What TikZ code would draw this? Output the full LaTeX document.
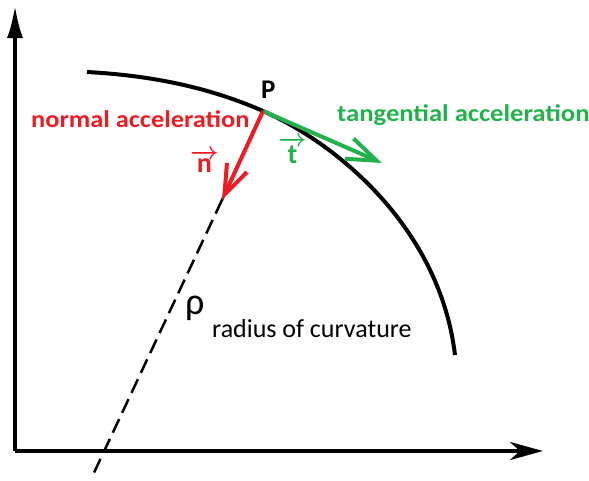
\documentclass[tikz,border=0pt]{standalone}
\usepackage{fontspec}
\setmainfont{Carlito}
\usetikzlibrary{arrows.meta}
\definecolor{pred}{RGB}{237,28,36}
\definecolor{pgreen}{RGB}{34,177,76}
\begin{document}
\begin{tikzpicture}[x=1pt,y=-1pt,
  axis/.style={line width=4pt,black},
  curv/.style={line width=4pt,black},
  vecarrow/.style={line width=4pt,-{Straight Barb[length=30pt,width=22pt,line width=4pt]}},
  lbl/.style={inner sep=0pt,anchor=base west}]
\useasboundingbox (0,0) rectangle (589,480);
% axes
\coordinate (O) at (15,451);
\coordinate (ytip) at (15,5);
\coordinate (xtip) at (543,451);
\draw[axis,-{Latex[length=33pt,width=16pt]}] (O) -- (ytip);
\draw[axis,-{Stealth[length=33pt,width=18pt,inset=10pt]}] (O) -- (xtip);
% curve
\coordinate (A) at (87,72);
\coordinate (P) at (263,111);
\coordinate (B) at (455,355);
\draw[curv] (A) .. controls (160,76) and (215,90) .. (P)
  .. controls (340,145) and (440,230) .. (B);
% radius line
\coordinate (ntip) at (222,200);
\coordinate (R) at (92,477);
\draw[line width=2.5pt] (P) -- (ntip);
\draw[line width=2.5pt,dash pattern=on 15pt off 7pt] (ntip) -- (R);
% vectors
\coordinate (ttip) at (382,163);
\draw[vecarrow,pgreen] (P) -- (ttip);
\draw[vecarrow,pred] (P) -- (ntip);
% labels
\node[lbl,font=\bfseries\fontsize{27}{27}\selectfont] (Plbl) at (261,98) {P};
\node[lbl,font=\bfseries\fontsize{24}{24}\selectfont,text=pred] (nacc) at (31,127) {\scalebox{1.1}[1]{normal acceleration}};
\node[lbl,font=\bfseries\fontsize{24}{24}\selectfont,text=pgreen] (tacc) at (337,121) {\scalebox{1.11}[1]{tangential acceleration}};
\node[lbl,font=\bfseries\boldmath\fontsize{28}{28}\selectfont,text=pred] (nvec) at (190,172) {$\overrightarrow{\hbox{n}}$};
\node[lbl,font=\bfseries\boldmath\fontsize{28}{28}\selectfont,text=pgreen] (tvec) at (278,163) {$\overrightarrow{\hbox{t}}$};
\node[lbl,font=\fontsize{38}{38}\selectfont] (rho) at (185,314) {ρ};
\node[lbl,font=\fontsize{26}{26}\selectfont] (roc) at (212,337) {radius of curvature};
\end{tikzpicture}
\end{document}
